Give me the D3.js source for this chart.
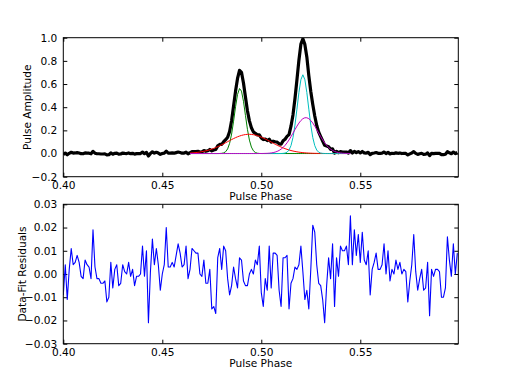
<!DOCTYPE html>
<html>
<head>
<meta charset="utf-8">
<script src="https://cdn.jsdelivr.net/npm/d3@7"></script>
<style>
  body { margin: 0; background: #fff; }
  text { font-family: 'DejaVu Sans', sans-serif; font-size: 10.6px; fill: #000; }
</style>
</head>
<body>
<svg id="chart" width="509" height="382"></svg>
<script>
// sampling grid shared by the profile and the residuals
const phaseStart = 0.400
const phaseStep = 0.001
const phaseEnd = 0.5995

// data - fit, one value per phase bin
const residuals = [
  -0.009, 0.004, -0.011, 0.002, 0.011, 0.004, 0.005, 0.008, 0.005, -0.001,
  -0.002, 0.006, 0.004, 0.003, -0.002, 0.019, 0.003, -0.002, -0.002, -0.004,
  -0.004, -0.003, -0.012, -0.010, 0.005, -0.006, 0.002, 0.004, -0.005, -0.004,
  0.004, 0.001, 0.000, 0.005, -0.001, 0.002, -0.005, -0.001, -0.001, 0.000,
  0.012, -0.001, 0.010, -0.021, 0.001, 0.015, 0.004, 0.011, 0.004, -0.007,
  0.000, 0.004, 0.020, 0.003, 0.003, 0.005, 0.003, 0.008, 0.013, 0.009,
  0.003, 0.004, 0.012, -0.002, 0.002, 0.011, 0.010, 0.009, 0.009, 0.000,
  -0.001, 0.006, -0.004, -0.004, 0.002, -0.015, -0.014, -0.017, 0.007, 0.011,
  0.002, 0.012, 0.010, -0.002, -0.009, -0.005, 0.003, -0.002, -0.006, 0.007,
  0.006, -0.003, -0.005, -0.005, 0.000, 0.002, 0.000, 0.006, 0.004, 0.012,
  -0.008, -0.014, -0.002, -0.007, 0.012, -0.006, 0.009, 0.009, 0.008, -0.007,
  -0.014, 0.007, 0.007, 0.008, -0.015, -0.004, -0.002, 0.003, 0.002, 0.004,
  0.012, 0.001, -0.011, -0.007, -0.015, 0.002, 0.021, 0.018, 0.004, -0.004,
  -0.005, -0.011, -0.021, -0.005, 0.007, -0.002, 0.013, -0.014, 0.007, -0.001,
  0.012, 0.010, 0.010, 0.012, 0.004, 0.025, 0.004, 0.019, 0.008, 0.017,
  0.005, 0.018, 0.006, 0.004, 0.010, -0.009, 0.002, 0.005, 0.009, 0.002,
  0.002, 0.004, 0.013, 0.000, 0.010, -0.003, 0.002, 0.000, 0.006, 0.002,
  0.005, 0.000, 0.002, 0.001, -0.012, -0.003, 0.004, 0.017, 0.001, -0.007,
  -0.002, 0.002, -0.007, -0.006, 0.005, -0.018, 0.002, -0.001, 0.002, 0.002,
  0.001, -0.010, -0.010, -0.006, 0.016, 0.006, -0.001, 0.013, 0.000, 0.009
]

// fitted components, sampled on the same grid from componentStart
const componentStart = 0.464
const compGreen = [
  0, 0, 0, 0, 0, 0, 0, 0, 0, 0, 0, 0, 0, 0, 0,
  0.0004, 0.0017, 0.0056, 0.016, 0.040, 0.088, 0.168, 0.279, 0.404, 0.510,
  0.561, 0.539, 0.451, 0.329, 0.209, 0.116, 0.056, 0.024, 0.0087, 0.0028, 0.0008,
  0, 0, 0, 0, 0, 0, 0, 0, 0, 0, 0, 0, 0, 0, 0, 0, 0, 0, 0, 0, 0, 0, 0,
  0, 0, 0, 0, 0, 0, 0, 0, 0, 0, 0, 0, 0, 0, 0, 0, 0, 0, 0, 0, 0, 0, 0
]
const compRed = [
  0.0042, 0.0054, 0.0068, 0.0085, 0.0106, 0.0131, 0.0160, 0.0194, 0.0233, 0.0278,
  0.0329, 0.0385, 0.0448, 0.0517, 0.0592, 0.0671, 0.0756, 0.0843, 0.0934, 0.1025,
  0.1116, 0.1205, 0.1291, 0.1371, 0.1445, 0.1509, 0.1564, 0.1607, 0.1638, 0.1656,
  0.1660, 0.1650, 0.1627, 0.1591, 0.1543, 0.1485, 0.1416, 0.1340, 0.1257, 0.1170,
  0.1080, 0.0989, 0.0897, 0.0808, 0.0721, 0.0639, 0.0561, 0.0489, 0.0422, 0.0362,
  0.0307, 0.0259, 0.0217, 0.0180, 0.0148, 0.0120, 0.0097, 0.0078, 0.0062, 0.0049,
  0.0038, 0.0030, 0.0023, 0.0017, 0.0013, 0.0010, 0.0007, 0.0005, 0.0004, 0.0003,
  0.0002, 0.0001, 0, 0, 0, 0, 0, 0, 0, 0, 0, 0
]
const compCyan = [
  0, 0, 0, 0, 0, 0, 0, 0, 0, 0, 0, 0, 0, 0, 0, 0, 0, 0, 0, 0, 0, 0,
  0, 0, 0, 0, 0, 0, 0, 0, 0, 0, 0, 0, 0, 0, 0, 0, 0, 0, 0, 0, 0, 0, 0,
  0.0001, 0.0003, 0.0012, 0.0039, 0.0115, 0.0299, 0.0685, 0.138, 0.245, 0.383,
  0.527, 0.638, 0.680, 0.638, 0.527, 0.383, 0.245, 0.138, 0.0685, 0.0299,
  0.0115, 0.0039, 0.0012, 0.0003, 0.0001,
  0, 0, 0, 0, 0, 0, 0, 0, 0, 0, 0, 0
]
const compMagenta = [
  0, 0, 0, 0, 0, 0, 0, 0, 0, 0, 0, 0, 0, 0, 0, 0, 0,
  0, 0, 0, 0, 0, 0, 0, 0, 0, 0, 0, 0, 0, 0, 0, 0, 0,
  0.0001, 0.0002, 0.0003, 0.0006, 0.0011, 0.0019, 0.0031, 0.0051, 0.0080, 0.0123,
  0.0184, 0.0268, 0.0380, 0.0524, 0.0705, 0.0922, 0.1174, 0.1456, 0.1757, 0.2065,
  0.2362, 0.2629, 0.2850, 0.3008, 0.3089, 0.3089, 0.3008, 0.2850, 0.2629, 0.2362,
  0.2065, 0.1757, 0.1456, 0.1174, 0.0922, 0.0705, 0.0524, 0.0380, 0.0268, 0.0184,
  0.0123, 0.0080, 0.0051, 0.0031, 0.0019, 0.0011, 0.0006, 0.0003
]

const phaseTicks = [0.40, 0.45, 0.50, 0.55]
const amplitudeTicks = [-0.2, 0.0, 0.2, 0.4, 0.6, 0.8, 1.0]
const residualTicks = [-0.03, -0.02, -0.01, 0.00, 0.01, 0.02, 0.03]

const svg = d3.select('#chart')
const left = 63.3
const right = 458.3

const x = d3.scaleLinear().domain([phaseStart, phaseEnd]).range([left, right])

const compOffset = Math.round((componentStart - phaseStart) / phaseStep)
const components = [compGreen, compRed, compCyan, compMagenta]
const componentColors = ['#008000', '#ff0000', '#00bfbf', '#bf00bf']

// measured profile = sum of the fit components + residual
const profile = residuals.map((r, i) => {
  const j = i - compOffset
  const model = d3.sum(components, c => (j >= 0 && j < c.length) ? c[j] : 0)
  return {phase: phaseStart + i * phaseStep, value: model + r}
})
const residualPoints = residuals.map((r, i) => ({phase: phaseStart + i * phaseStep, value: r}))
const componentPoints = components.map(c => c.map((v, j) => ({phase: componentStart + j * phaseStep, value: v})))

function drawPanel(top, bottom, yDomain, yTicks, yFormat, yLabel, yLabelX, id) {
  const y = d3.scaleLinear().domain(yDomain).range([bottom, top])
  const g = svg.append('g')

  g.append('clipPath').attr('id', id)
    .append('rect')
    .attr('x', left).attr('y', top)
    .attr('width', right - left).attr('height', bottom - top)

  const axes = [
    [d3.axisBottom(x).tickValues(phaseTicks).tickFormat(d3.format('.2f')), `translate(0,${bottom})`],
    [d3.axisTop(x).tickValues(phaseTicks).tickFormat(''), `translate(0,${top})`],
    [d3.axisLeft(y).tickValues(yTicks).tickFormat(d3.format(yFormat)), `translate(${left},0)`],
    [d3.axisRight(y).tickValues(yTicks).tickFormat(''), `translate(${right},0)`]
  ]
  axes.forEach(([axis, t], k) => {
    const a = g.append('g')
      .attr('transform', t)
      .call(axis.tickSize(-4).tickSizeOuter(0).tickPadding(k === 2 ? 6 : 4.6))
    a.select('.domain').remove()
    a.selectAll('line').attr('stroke', '#000').attr('stroke-width', 1)
    a.selectAll('text').attr('font-family', null).attr('font-size', null).attr('fill', '#000')
  })

  g.append('text')
    .attr('x', (left + right) / 2)
    .attr('y', bottom + 23.5)
    .attr('text-anchor', 'middle')
    .text('Pulse Phase')

  g.append('text')
    .attr('transform', `translate(${yLabelX},${(top + bottom) / 2}) rotate(-90)`)
    .attr('text-anchor', 'middle')
    .text(yLabel)

  const plot = g.append('g').attr('clip-path', `url(#${id})`)
  const line = d3.line().x(d => x(d.phase)).y(d => y(d.value))

  return {g, plot, line, y, top, bottom}
}

function drawFrame(p) {
  p.g.append('rect')
    .attr('x', left).attr('y', p.top)
    .attr('width', right - left).attr('height', p.bottom - p.top)
    .attr('fill', 'none').attr('stroke', '#000').attr('stroke-width', 1)
}

// top: pulse profile with fit components
const upper = drawPanel(37.7, 176.7, [-0.2, 1.0], amplitudeTicks, '.1f', 'Pulse Amplitude', 30.5, 'clip-top')
upper.plot.append('path')
  .datum(profile)
  .attr('fill', 'none')
  .attr('stroke', '#000')
  .attr('stroke-width', 3.2)
  .attr('stroke-linejoin', 'round')
  .attr('d', upper.line)
upper.plot.selectAll('path.component')
  .data(componentPoints)
  .enter()
  .append('path')
  .attr('class', 'component')
  .attr('fill', 'none')
  .attr('stroke', (d, i) => componentColors[i])
  .attr('stroke-width', 1)
  .attr('d', upper.line)
drawFrame(upper)

// bottom: residuals
const lower = drawPanel(204.3, 343.7, [-0.03, 0.03], residualTicks, '.2f', 'Data-Fit Residuals', 25.5, 'clip-bottom')
lower.plot.append('path')
  .datum(residualPoints)
  .attr('fill', 'none')
  .attr('stroke', '#0000ff')
  .attr('stroke-width', 1.1)
  .attr('stroke-linejoin', 'round')
  .attr('d', lower.line)
drawFrame(lower)
</script>
</body>
</html>
